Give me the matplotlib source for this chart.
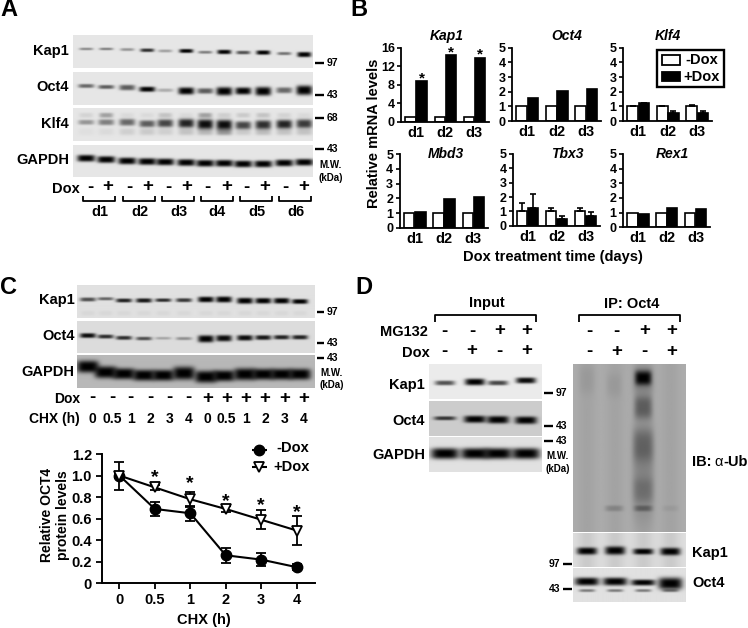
import matplotlib
matplotlib.use('Agg')
import matplotlib.pyplot as plt
import numpy as np

plt.rcParams['font.family'] = ['Liberation Sans', 'DejaVu Sans']
plt.rcParams['font.weight'] = 'bold'

W, H = 748, 628

# panel B
days = ['d1', 'd2', 'd3']
kap1_minus = [1, 1, 1]
kap1_plus = [8.8, 14.4, 13.9]
oct4_minus = [1, 1, 1]
oct4_plus = [1.6, 2.05, 2.15]
klf4_minus = [1, 1, 1]
klf4_plus = [1.2, 0.55, 0.55]
klf4_err_m = [0.04, 0.03, 0.1]
klf4_err_p = [0.05, 0.12, 0.13]
mbd3_minus = [1, 1, 1]
mbd3_plus = [1.07, 1.93, 2.1]
tbx3_minus = [1, 1, 1]
tbx3_plus = [1.2, 0.45, 0.7]
tbx3_err_m = [0.55, 0.2, 0.25]
tbx3_err_p = [1.0, 0.2, 0.25]
rex1_minus = [1, 1, 1]
rex1_plus = [0.9, 1.35, 1.25]

# panel C
chx_labels = ['0', '0.5', '1', '2', '3', '4']
oct4_nodox = [1.0, 0.69, 0.65, 0.26, 0.22, 0.15]
oct4_nodox_err = [0.13, 0.065, 0.07, 0.07, 0.06, 0.03]
oct4_dox = [1.0, 0.89, 0.78, 0.69, 0.59, 0.49]
oct4_dox_err = [0.02, 0.02, 0.07, 0.03, 0.09, 0.13]

# western blot lanes and band strength
a_lanes = [86, 106, 127, 147, 165, 186, 205, 224, 243, 263, 284, 304]
a_kap1_y = [48.7, 48.7, 49.3, 50, 50.7, 50.7, 52, 51.7, 52.3, 52.3, 53.3, 54.3]
a_kap1_d = [0.4, 0.45, 0.35, 0.8, 0.3, 1, 0.45, 1, 0.65, 1, 0.5, 1]
a_kap1_h = [1.3, 1.3, 1.5, 1.8, 1.5, 2, 1.5, 2.2, 1.8, 2.2, 1.6, 2.6]
a_oct4_y = [85.7, 86.7, 87.3, 89, 90, 90.7, 90.7, 91, 90.7, 91, 90, 90]
a_oct4_d = [0.55, 0.6, 0.6, 1, 0.25, 1, 0.6, 1, 1, 1, 0.55, 1]
a_oct4_h = [2, 2, 2.8, 2.6, 1.8, 3.6, 2.8, 4.2, 3.6, 4.4, 3, 4.8]
a_klf4_y = [122, 122, 122, 123.5, 123, 123, 124, 124.5, 125, 124.5, 124, 123.5]
a_klf4_d = [0.35, 0.45, 0.55, 0.6, 0.7, 0.85, 0.95, 0.95, 0.7, 0.8, 0.85, 0.75]
a_klf4_h = [2.5, 3, 3.5, 3.5, 4, 4.5, 5, 5, 4, 4.5, 4.5, 4.5]
a_klf4_up = [0.08, 0.3, 0.05, 0.05, 0.15, 0.05, 0.3, 0.1, 0.12, 0.15, 0.08, 0.05]
a_klf4_low = [0.03, 0.05, 0.1, 0.12, 0.1, 0.15, 0.2, 0.35, 0.12, 0.18, 0.15, 0.15]
a_gapdh_y = [158, 159.3, 160.7, 161.3, 161.7, 162.3, 163, 163, 163.7, 163.7, 162.7, 162]

c_lanes = [88, 105.7, 124, 144, 163.3, 184, 206, 224, 245, 263.3, 281.7, 300]
c_kap1_y = [300, 299.3, 301, 301, 300.7, 300.7, 300, 300, 301.3, 301.3, 301.3, 302]
c_kap1_d = [0.65, 0.55, 0.85, 0.9, 0.8, 0.75, 1, 1, 1, 1, 1, 1]
c_kap1_h = [2, 1.6, 2, 2.2, 1.8, 2, 2.8, 3, 3, 2.8, 2.8, 2.4]
c_oct4_y = [335, 336, 337.3, 338, 337.7, 338, 338.3, 337.7, 337.3, 337, 336.7, 336.7]
c_oct4_d = [0.95, 0.8, 0.8, 0.65, 0.25, 0.35, 1, 0.95, 0.95, 0.9, 0.85, 0.85]
c_oct4_h = [2.4, 2, 2, 1.8, 1.4, 1.6, 3.6, 3.2, 2.8, 2.4, 2.2, 2.2]
c_gapdh_y = [366.5, 372, 373.5, 375, 375, 373, 376.5, 375.5, 374, 374, 374, 374]
c_gapdh_h = [6, 6, 5.5, 5.5, 5.5, 6.5, 6, 5.5, 6, 5.5, 5.5, 5.5]

d_lanes = [445, 475, 498, 526]
d_kap1_y = [383, 382, 383, 380.5]
d_kap1_d = [0.65, 1, 0.7, 0.95]
d_kap1_h = [2.4, 3.4, 2.4, 3]
d_oct4_y = [418, 419, 419.5, 420]
d_oct4_d = [0.75, 1, 1, 1]
d_oct4_h = [2, 3.6, 3.8, 3.8]
d_gapdh_y = [454, 454, 454, 454]
ip_lanes = [587, 615, 643, 670]
ip_kap1_y = [550.5, 550, 551, 551]
ip_kap1_h = [3.6, 4.2, 3, 3.8]
ip_oct4_y = [581, 581, 582, 583]
ip_oct4_h = [4, 4, 3, 6]

# smear spots of the ubiquitin lanes
ub_x = [643, 643, 643, 643, 643, 643, 614, 643, 587, 614, 670]
ub_y = [378, 407, 445, 490, 508, 380, 508, 470, 380, 385, 508]
ub_d = [1.0, 0.42, 0.28, 0.18, 0.35, 0.25, 0.2, 0.2, 0.06, 0.06, 0.06]
ub_w = [8, 9, 10, 10, 9, 10, 9, 11, 8, 8, 8]
ub_h = [7, 12, 16, 12, 3, 14, 3, 50, 14, 12, 3]

b_title_x = [447, 567, 668, 446, 567, 672]

fig = plt.figure(figsize=(W / 100, H / 100), dpi=100)
pix = fig.add_axes([0, 0, 1, 1])


def txt(x, y, s, size=10, ha='center', **kw):
    pix.text(x, y, s, fontsize=size, ha=ha, va='center', **kw)


def line(xs, ys, lw=1.5):
    pix.plot(xs, ys, color='k', lw=lw, solid_capstyle='butt')


def blot(box, bands, bg=0.9, smear=None):
    # box is left, top, right, bottom in pixels, bands are x, y, half width, half height, darkness
    l, t, r, b = box
    xx, yy = np.meshgrid(np.arange(l, r, 0.5), np.arange(t, b, 0.5))
    keep = np.ones(xx.shape)
    for cx, cy, w, h, d in bands:
        keep *= 1 - d * np.exp(-((xx - cx) / w) ** 4 - np.abs((yy - cy) / h) ** 3)
    if smear is not None:
        for cx, w, d in smear:
            keep *= 1 - d * np.exp(-((xx - cx) / w) ** 2)
    pix.imshow(bg * keep, cmap='gray', vmin=0, vmax=1, extent=(l, r, b, t), aspect='auto',
               interpolation='bilinear', zorder=1)


def bands_of(lanes, ys, ds, hs, w=8):
    return [(x, y, w, h, d) for x, y, h, d in zip(lanes, ys, hs, ds)]


def brackets(x0, x1, top, bottom, lw=1.3):
    line([x0, x0, x1, x1], [bottom, top, top, bottom], lw)


def markers(x0, x1, rows, size=7.5):
    for y, label in rows:
        line([x0, x1], [y, y], 1.7)
        txt(x1 + 3, y, label, size, ha='left')


def bar_panel(box, title, title_x, title_y, top, ticks, minus, plus, err_m=None, err_p=None):
    l, t, r, b = box
    ax = fig.add_axes([l / W, 1 - b / H, (r - l) / W, (b - t) / H])
    ax.patch.set_alpha(0)
    x = np.arange(3)
    zero = [0, 0, 0]
    ax.bar(x - 0.19, minus, 0.36, color='white', edgecolor='k', lw=1.2,
           yerr=None if err_m is None else [zero, err_m], error_kw=dict(lw=1.2, capsize=2, capthick=1.2))
    ax.bar(x + 0.19, plus, 0.36, color='k', edgecolor='k', lw=1.2,
           yerr=None if err_p is None else [zero, err_p], error_kw=dict(lw=1.2, capsize=2, capthick=1.2))
    ax.set_xlim(-0.52, 2.5)
    ax.set_ylim(0, top)
    ax.set_yticks(ticks)
    ax.set_xticks(x)
    ax.set_xticklabels(days)
    ax.tick_params(axis='x', length=0, pad=3, labelsize=10.5)
    ax.tick_params(axis='y', length=3, width=1.2, pad=1.5, labelsize=9)
    for s in ['top', 'right']:
        ax.spines[s].set_visible(False)
    for s in ['left', 'bottom']:
        ax.spines[s].set_linewidth(1.3)
    txt(title_x, title_y, title, 10, style='italic')
    return ax


# panel A
txt(9, 10, 'A', 17)
a_x = 73, 313
blot((a_x[0], 35, a_x[1], 68), bands_of(a_lanes, a_kap1_y, a_kap1_d, a_kap1_h, 7))
blot((a_x[0], 72, a_x[1], 105), bands_of(a_lanes, a_oct4_y, a_oct4_d, a_oct4_h))
blot((a_x[0], 108, a_x[1], 141),
     bands_of(a_lanes, a_klf4_y, a_klf4_d, a_klf4_h)
     + [(x, 115, 7, 2.5, d) for x, d in zip(a_lanes, a_klf4_up)]
     + [(x, 131.5, 8, 3.5, d) for x, d in zip(a_lanes, a_klf4_low)])
blot((a_x[0], 145, a_x[1], 177), bands_of(a_lanes, a_gapdh_y, [1] * 12, [3.4] * 12, 9))
for y, s in [(50.7, 'Kap1'), (87, 'Oct4'), (123.5, 'Klf4'), (160, 'GAPDH')]:
    txt(69, y, s, 10.5, ha='right')
markers(315, 324, [(62.7, '97'), (94.7, '43'), (117.7, '68'), (149, '43')])
txt(331, 165, 'M.W.', 7)
txt(331, 177.7, '(kDa)', 7)
txt(79.5, 188.7, 'Dox', 10.5, ha='right')
a_signs = [90, 108, 129, 148, 168, 187, 207, 227, 246, 265, 285, 304]
for i, x in enumerate(a_signs):
    txt(x, 187, '+' if i % 2 else '-', 13.5)
for x0, x1, s in [(83.5, 115.5, 'd1'), (123, 155, 'd2'), (162, 194, 'd3'),
                  (201, 233, 'd4'), (240, 272, 'd5'), (279, 311, 'd6')]:
    brackets(x0, x1, 201, 196)
    txt((x0 + x1) / 2 + 0.5, 212, s, 10.5)

# panel B
txt(359, 10, 'B', 17)
ax = bar_panel((401, 48, 489, 121.7), 'Kap1', b_title_x[0], 36, 16, [0, 4, 8, 12, 16], kap1_minus, kap1_plus)
for x, y in zip(range(3), kap1_plus):
    ax.text(x + 0.19, y + 0.6, '*', fontsize=11, ha='center', va='center')
bar_panel((512, 47.7, 601, 121), 'Oct4', b_title_x[1], 36, 5, range(6), oct4_minus, oct4_plus)
bar_panel((623, 47.7, 712, 121), 'Klf4', b_title_x[2], 36, 5, range(6), klf4_minus, klf4_plus, klf4_err_m, klf4_err_p)
bar_panel((399.5, 154.3, 488, 227.7), 'Mbd3', b_title_x[3], 154, 5, range(6), mbd3_minus, mbd3_plus)
bar_panel((512.7, 154, 600, 225.7), 'Tbx3', b_title_x[4], 154, 5, range(6), tbx3_minus, tbx3_plus, tbx3_err_m, tbx3_err_p)
bar_panel((623, 154, 710, 227.3), 'Rex1', b_title_x[5], 154, 5, range(6), rex1_minus, rex1_plus)
txt(374.5, 133, 'Relative mRNA levels', 10.5, rotation=90)
txt(553, 257, 'Dox treatment time (days)', 10.5)
pix.add_patch(plt.Rectangle((657, 50), 67, 37, fc='white', ec='k', lw=1.7, zorder=3))
pix.add_patch(plt.Rectangle((662.5, 55), 18, 9.5, fc='white', ec='k', lw=1.3, zorder=4))
pix.add_patch(plt.Rectangle((662.5, 71.5), 18, 9.5, fc='k', ec='k', lw=1.3, zorder=4))
txt(685, 60, '-Dox', 10.5, ha='left', zorder=5)
txt(683.5, 77, '+Dox', 10.5, ha='left', zorder=5)

# panel C
txt(9, 287, 'C', 17)
c_x = 77.3, 315
blot((c_x[0], 286, c_x[1], 318.3), bands_of(c_lanes, c_kap1_y, c_kap1_d, c_kap1_h)
     + [(x, 313.5, 7, 2.5, 0.04) for x in c_lanes], bg=0.88)
blot((c_x[0], 320.7, c_x[1], 352.7), bands_of(c_lanes, c_oct4_y, c_oct4_d, c_oct4_h), bg=0.86)
blot((c_x[0], 355.3, c_x[1], 387.7), bands_of(c_lanes, c_gapdh_y, [1] * 12, c_gapdh_h, 11), bg=0.72)
for y, s in [(300, 'Kap1'), (336, 'Oct4'), (371.7, 'GAPDH')]:
    txt(74.5, y, s, 10.5, ha='right')
markers(316.7, 324, [(312.3, '97'), (342.7, '43'), (358.3, '43')])
txt(331.7, 372.7, 'M.W.', 7)
txt(331.7, 385, '(kDa)', 7)
txt(80, 399, 'Dox', 10, ha='right')
txt(80, 419, 'CHX (h)', 10, ha='right')
c_sign_x = [92.7, 112.7, 130.7, 150, 169.3, 188.3, 207.7, 226.7, 246, 265, 284.3, 303.7]
for i, x in enumerate(c_sign_x):
    txt(x, 398, '-' if i < 6 else '+', 13.5)
    txt(x, 419, chx_labels[i % 6], 10)

ax = fig.add_axes([101.7 / W, 1 - 583.3 / H, (315 - 101.7) / W, (583.3 - 454) / H])
ax.patch.set_alpha(0)
x = np.arange(6)
ax.errorbar(x, oct4_nodox, yerr=oct4_nodox_err, color='k', lw=1.5, marker='o', ms=7.5,
            capsize=3.5, capthick=1.3, elinewidth=1.3)
ax.errorbar(x, oct4_dox, yerr=oct4_dox_err, color='k', lw=1.5, marker='v', ms=7, mfc='white',
            mew=1.3, capsize=3.5, capthick=1.3, elinewidth=1.3)
ax.set_xlim(-0.5, 5.52)
ax.set_ylim(0, 1.2)
ax.set_xticks(x)
ax.set_xticklabels(chx_labels)
ax.set_yticks([0, 0.2, 0.4, 0.6, 0.8, 1.0, 1.2])
ax.set_yticklabels(['0', '0.2', '0.4', '0.6', '0.8', '1.0', '1.2'])
ax.tick_params(length=4, width=1.3, labelsize=10.5, pad=3)
for s in ['top', 'right']:
    ax.spines[s].set_visible(False)
for s in ['left', 'bottom']:
    ax.spines[s].set_linewidth(1.4)
for xi, y in zip(x[1:], [0.98, 0.93, 0.76, 0.72, 0.66]):
    ax.text(xi, y, '*', fontsize=14, ha='center', va='center')
txt(55, 515, 'Relative OCT4\nprotein levels', 10, rotation=90, linespacing=1.1)
txt(204, 620, 'CHX (h)', 10.5)
line([252, 267], [449.5, 449.5])
pix.plot([259.5], [449.5], 'o', color='k', ms=7.5)
line([252, 267], [467, 467])
pix.plot([259.5], [467], 'v', color='k', mfc='white', mew=1.3, ms=7)
txt(309, 448.5, '-Dox', 10.5, ha='right')
txt(310, 467, '+Dox', 10.5, ha='right')

# panel D
txt(364, 287, 'D', 17)
txt(487, 303.5, 'Input', 10.5)
brackets(435.3, 536, 314.5, 321.5)
txt(632, 303.5, 'IP: Oct4', 10.5)
brackets(579, 680, 314.5, 321.5)
txt(427.7, 332.3, 'MG132', 10.5, ha='right')
txt(429.3, 353.3, 'Dox', 10.5, ha='right')
for x, a, b in zip([444, 472, 499.3, 526.7], '--++', '-+-+'):
    txt(x, 331, a, 13.5)
    txt(x, 351, b, 13.5)
for x, a, b in zip([589.3, 616.7, 644.3, 672], '--++', '-+-+'):
    txt(x, 331, a, 13.5)
    txt(x, 351.7, b, 13.5)
i_x = 429.3, 542
blot((i_x[0], 364.3, i_x[1], 399.3), bands_of(d_lanes, d_kap1_y, d_kap1_d, d_kap1_h, 10), bg=0.92)
blot((i_x[0], 401, i_x[1], 435.7), bands_of(d_lanes, d_oct4_y, d_oct4_d, d_oct4_h, 11), bg=0.8)
blot((i_x[0], 437.7, i_x[1], 472.3), bands_of(d_lanes, d_gapdh_y, [1] * 4, [5.5] * 4, 14), bg=0.88)
for y, s in [(385, 'Kap1'), (420.7, 'Oct4'), (455, 'GAPDH')]:
    txt(425, y, s, 10.5, ha='right')
markers(544.3, 552.7, [(392.7, '97'), (426, '43'), (441, '43')])
txt(558, 456, 'M.W.', 7)
txt(558, 468.7, '(kDa)', 7)
ip_x = 573.3, 685.7
blot((ip_x[0], 364.3, ip_x[1], 531.7), [(x, y, w, h, d) for x, y, w, h, d in zip(ub_x, ub_y, ub_w, ub_h, ub_d)],
     bg=0.68, smear=[(x, 10, 0.06) for x in ip_lanes])
blot((ip_x[0], 532.7, ip_x[1], 566.7), bands_of(ip_lanes, ip_kap1_y, [1] * 4, ip_kap1_h, 10), bg=0.88,
     smear=[(x, 10, 0.1) for x in ip_lanes])
blot((ip_x[0], 567.7, ip_x[1], 601.7), bands_of(ip_lanes, ip_oct4_y, [1] * 4, ip_oct4_h, 12)
     + [(x, 590, 8, 1.5, 0.45) for x in ip_lanes], bg=0.88)
txt(692, 461.7, 'IB:', 10.5, ha='left')
txt(714.5, 461.7, '\u03b1', 10.5, ha='left', fontweight='normal')
txt(723, 461.7, '-Ub', 10.5, ha='left')
txt(692, 553.3, 'Kap1', 10.5, ha='left')
txt(692, 582.7, 'Oct4', 10.5, ha='left')
line([562.7, 572], [564, 564], 1.7)
line([562.7, 572], [589.3, 589.3], 1.7)
txt(560.7, 564, '97', 7.5, ha='right')
txt(560.7, 589.3, '43', 7.5, ha='right')

pix.set_xlim(0, W)
pix.set_ylim(H, 0)
pix.axis('off')
fig.savefig('out.png', dpi=100)
